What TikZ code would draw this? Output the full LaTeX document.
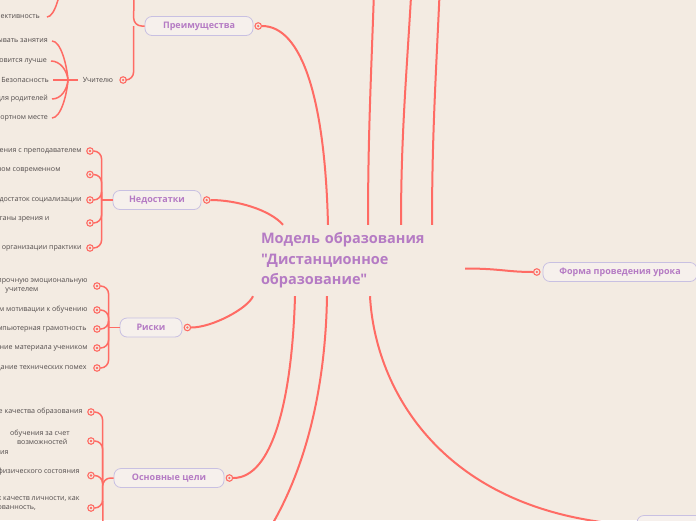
\documentclass[tikz,border=0pt]{standalone}
\usepackage{fontspec}
\setmainfont{Open Sans}[Ligatures=TeXOff]
\usepackage{tikz}
\usetikzlibrary{positioning}
\definecolor{paper}{HTML}{F3EBE2}
\definecolor{branch}{HTML}{FF6B64}
\definecolor{topic}{HTML}{B57BC4}
\definecolor{frame}{HTML}{C8C0E2}
\definecolor{boxfill}{HTML}{F6F0EC}
\definecolor{leaftext}{HTML}{504A4A}

\begin{document}
\begin{tikzpicture}[x=1pt, y=-1pt,
      topicbox/.style={draw=frame, line width=0.8pt, rounded corners=7pt, fill=boxfill,
                  minimum height=19pt, font=\fontsize{9}{11}\selectfont\bfseries, text=topic},
      knob/.style={circle, draw=branch, fill=paper, line width=1.1pt, minimum size=6.5pt, inner sep=0pt,
                  path picture={\fill[branch] (path picture bounding box.center) circle (1.3pt);}},
      leaf/.style={inner sep=0pt, align=left, font=\fontsize{7.1}{9.6}\selectfont, text=leaftext},
      main/.style={branch, line width=2pt},
      twig/.style={branch, line width=1.5pt, rounded corners=8pt}
    ]
      \path[use as bounding box, fill=paper] (0,0) rectangle (696,520);

      % centre
      \node[text=topic, font=\fontsize{14.5}{20.5}\selectfont\bfseries, align=left, text width=193pt,
            inner xsep=11pt, inner ysep=0pt, minimum height=71pt] (root) at (357.5,260.5)
            {Модель образования\\"Дистанционное\\образование"};

      % topics
      \node[topicbox, minimum width=108pt] (pre) at (199,26) {Преимущества};
      \node[knob, right=1pt of pre] (pred) {};
      \node[topicbox, minimum width=88pt] (ned) at (157,200) {Недостатки};
      \node[knob, right=1.5pt of ned] (nedd) {};
      \node[topicbox, minimum width=62pt] (risk) at (151,327.5) {Риски};
      \node[knob, right=1.2pt of risk] (riskd) {};
      \node[topicbox, minimum width=110pt] (goal) at (169,478) {Основные цели};
      \node[knob, right=1.2pt of goal] (goald) {};
      \node[topicbox, minimum width=154pt] (form) at (620,272) {Форма проведения урока};
      \node[knob, left=2pt of form] (formd) {};
      \node[topicbox, minimum width=154pt] (lower) at (714,525) {};
      \node[knob, left=2pt of lower] (lowerd) {};

      \coordinate[left=11pt of pre] (prej);
      \coordinate[left=11pt of ned] (nedj);
      \coordinate[left=11pt of risk] (riskj);
      \coordinate[left=11pt of goal] (goalj);
      \coordinate (preup) at (134,-15);
      \coordinate (goaldown) at (103,540);
      \coordinate (lowleft) at (230,580);
      \coordinate (up1) at (375,-40);
      \coordinate (up2) at (413,-40);
      \coordinate (up3) at (441,-40);

      % Преимущества
      \node[leaf, inner xsep=5pt] (uch) at (98,80) {Учителю};
      \node[knob, right=1pt of uch] (uchd) {};
      \coordinate (uchj) at (68,80);
      \node[leaf, anchor=east] (u1) at (48,41) {ывать занятия};
      \node[leaf, anchor=east] (u2) at (47,61) {овится лучше};
      \node[leaf, anchor=east] (u3) at (49,80) {Безопасность};
      \node[leaf, anchor=east] (u4) at (48,99) {для родителей};
      \node[leaf, anchor=east] (u5) at (48,118) {ортном месте};
      \node[leaf, anchor=east] (ek) at (40,17) {ективность};
      \coordinate (ekj) at (62,-22);

      % Недостатки
      \node[knob] (n1) at (90,151) {};
      \node[knob] (n2) at (90,174.5) {};
      \node[knob] (n3) at (90,200) {};
      \node[knob] (n4) at (90,223) {};
      \node[knob] (n5) at (90,248) {};
      \node[leaf, left=4.5pt of n1] {ения с преподавателем};
      \node[leaf, left=25.5pt of n2] {ном современном\\\mbox{}};
      \node[leaf, left=4.5pt of n3] {достаток социализации};
      \node[leaf, left=36.5pt of n4] {ганы зрения и\\\mbox{}};
      \node[leaf, left=4.5pt of n5] {организации практики};

      % Риски
      \node[knob] (r1) at (97,286) {};
      \node[knob] (r2) at (97,310) {};
      \node[knob] (r3) at (97,329) {};
      \node[knob] (r4) at (97,348) {};
      \node[knob] (r5) at (97,368) {};
      \node[leaf, left=5.5pt of r1] {прочную эмоциональную\\\hspace*{8pt}учителем};
      \node[leaf, left=5.5pt of r2] {ем мотивации к обучению};
      \node[leaf, left=6.5pt of r3] {мпьютерная грамотность};
      \node[leaf, left=5.5pt of r4] {ние материала учеником};
      \node[leaf, left=6.5pt of r5] {дание технических помех};

      % Основные цели
      \node[knob] (o1) at (91,412) {};
      \node[knob] (o2) at (91,441) {};
      \node[knob] (o3) at (91,475.5) {};
      \node[knob] (o4) at (91,508) {};
      \node[leaf, left=4.5pt of o1] {е качества образования};
      \node[leaf, anchor=west] at (0,442) {\hspace*{10pt}обучения за счет\\\hspace*{17pt}возможностей\\ия};
      \node[leaf, left=7.5pt of o3] {физического состояния\\\mbox{}};
      \node[leaf, left=7.5pt of o4] {х качеств личности, как\\ованность,\\\mbox{}};

      % main branches
      \draw[main] (pred) .. controls +(44,0) and +(-3,-125) .. ([xshift=-29.5pt]root.north);
      \draw[main] (nedd) .. controls +(30,0) and +(-13,-15) .. ([xshift=-74.5pt]root.north);
      \draw[main] (riskd) .. controls +(25,0) and +(-5,12) .. ([xshift=-104.5pt]root.south);
      \draw[main] (goald) .. controls +(43,0) and +(-3,104) .. ([xshift=-62.5pt]root.south);
      \draw[main] ([xshift=-30.5pt]root.south) .. controls +(-2,124) and +(60,-60) .. (lowleft);
      \draw[main] ([xshift=12.5pt]root.south) .. controls +(5,94) and +(-188,-14) .. (lowerd);
      \draw[main] ([yshift=-8pt]root.east) .. controls +(35,0) and +(-30,0) .. (formd);
      \draw[main] ([xshift=10.5pt]root.north) .. controls +(0,-100) and +(-3,100) .. (up1);
      \draw[main] ([xshift=43.5pt]root.north) .. controls +(0,-100) and +(-5,100) .. (up2);
      \draw[main] ([xshift=74.5pt]root.north) .. controls +(0,-100) and +(-4,100) .. (up3);

      % brackets
      \draw[twig] (pre) -- (prej) -- (preup);
      \draw[twig] (prej) |- (uchd);
      \draw[twig] ([xshift=4pt]u3.east) -- (uchj) -- (uch);
      \foreach \n/\b in {u1/-14, u2/-10, u4/10, u5/14}
        \draw[twig] ([xshift=4pt]\n.east) .. controls +(9,0) and +(-1,\b) .. (uchj);
      \draw[twig] ([xshift=7pt]ek.east) .. controls +(8,0) and +(-1,14) .. (ekj);
      \draw[twig] (ned) -- (nedj);
      \foreach \n in {n1,n2,n3,n4,n5}
        \draw[twig] (nedj) |- (\n);
      \draw[twig] (risk) -- (riskj);
      \foreach \n in {r1,r2,r3,r4,r5}
        \draw[twig] (riskj) |- (\n);
      \draw[twig] (goal) -- (goalj) -- (goaldown);
      \foreach \n in {o1,o2,o3,o4}
        \draw[twig] (goalj) |- (\n);
\end{tikzpicture}
\end{document}
